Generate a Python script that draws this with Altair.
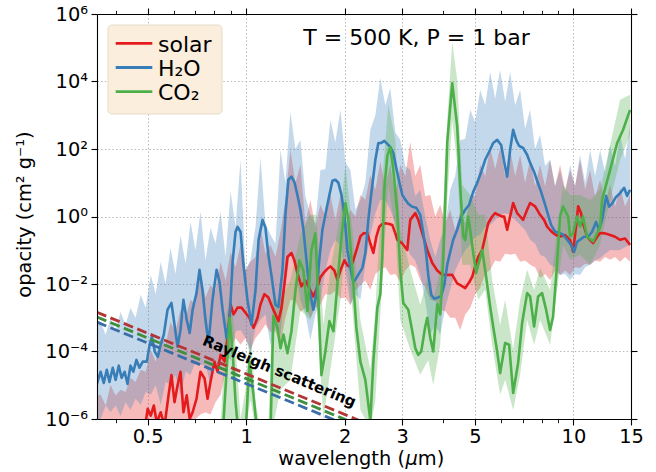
import altair as alt
import pandas as pd

FONT = "DejaVu Sans"

# ---------------- smoothed opacity curves (wavelength in um, log10 opacity in cm^2/g) -------------
h2o_wl = [
    0.349, 0.359, 0.367, 0.375, 0.382, 0.391, 0.399, 0.408, 0.416, 0.425,
    0.434, 0.443, 0.452, 0.462, 0.472, 0.483, 0.497, 0.507, 0.515, 0.526,
    0.537, 0.548, 0.560, 0.575, 0.591, 0.604, 0.617, 0.630, 0.643, 0.658,
    0.672, 0.686, 0.705, 0.720, 0.735, 0.751, 0.767, 0.789, 0.812, 0.829,
    0.847, 0.871, 0.890, 0.909, 0.928, 0.941, 0.961, 0.981, 1.009, 1.038,
    1.068, 1.091, 1.122, 1.145, 1.169, 1.194, 1.229, 1.255, 1.291, 1.318,
    1.346, 1.375, 1.404, 1.434, 1.465, 1.496, 1.528, 1.560, 1.604, 1.638,
    1.673, 1.710, 1.758, 1.796, 1.835, 1.873, 1.913, 1.955, 1.996, 2.039,
    2.082, 2.126, 2.172, 2.218, 2.266, 2.313, 2.362, 2.413, 2.482, 2.535,
    2.588, 2.643, 2.700, 2.757, 2.816, 2.876, 2.937, 3.000, 3.064, 3.129,
    3.218, 3.310, 3.404, 3.477, 3.551, 3.601, 3.678, 3.756, 3.837, 3.946,
    4.030, 4.116, 4.203, 4.293, 4.415, 4.542, 4.671, 4.804, 4.941, 5.082,
    5.227, 5.376, 5.529, 5.687, 5.849, 6.015, 6.143, 6.275, 6.408, 6.545,
    6.684, 6.826, 7.021, 7.221, 7.375, 7.585, 7.747, 7.968, 8.195, 8.370,
    8.548, 8.792, 9.043, 9.301, 9.568, 9.841, 10.05, 10.26, 10.48, 10.78,
    11.09, 11.41, 11.73, 11.98, 12.24, 12.59, 12.86, 13.13, 13.50, 13.89,
    14.29, 14.59, 14.90,
]
h2o_log = [
    -4.99, -4.60, -4.93, -4.54, -4.90, -4.48, -4.84, -4.42, -4.78, -4.60,
    -4.96, -4.42, -4.60, -4.25, -4.48, -4.30, -4.30, -3.80, -3.56, -4.01,
    -4.16, -3.80, -3.50, -2.76, -2.56, -3.21, -3.86, -3.36, -2.47, -3.06,
    -3.45, -2.76, -2.27, -1.58, -2.17, -3.06, -3.75, -2.47, -1.58, -1.94,
    -2.76, -3.60, -3.06, -1.34, -0.45, -0.31, -0.45, -1.43, -2.47, -3.21,
    -2.17, -0.69, -0.10, -0.33, -1.14, -1.73, -2.62, -2.68, -1.58, 0.05,
    1.09, 1.18, 1.02, 0.64, 0.20, -0.39, -1.28, -2.17, -2.76, -2.32,
    -1.28, -0.39, 0.20, 0.64, 1.06, 1.09, 1.00, 0.64, 0.05, -0.99,
    -1.52, -1.94, -1.82, -1.67, -1.52, -1.08, -0.10, 0.69, 1.68, 2.18,
    2.18, 2.24, 2.15, 2.06, 1.88, 1.44, 1.02, 0.64, 0.50, 0.38,
    0.29, 0.26, 0.05, -0.48, -1.13, -1.73, -2.32, -2.44, -2.41, -2.35,
    -2.03, -1.43, -1.05, -0.69, -0.39, 0.00, 0.20, 0.35, 0.73, 1.00,
    1.32, 1.68, 1.92, 2.18, 2.27, 2.12, 1.62, 1.18, 1.98, 2.57,
    2.27, 2.09, 2.03, 1.83, 1.59, 1.32, 1.06, 0.73, 0.35, 0.05,
    -0.25, -0.45, -0.48, -0.54, -0.69, -0.84, -1.05, -0.75, -0.69, -0.60,
    -0.60, -0.45, -0.16, -0.39, -0.10, 0.61, 0.29, 0.38, 0.58, 0.69,
    0.85, 0.61, 0.79,
]

solar_wl = [
    0.486, 0.500, 0.511, 0.522, 0.533, 0.548, 0.563, 0.579, 0.591, 0.604,
    0.617, 0.630, 0.643, 0.658, 0.672, 0.686, 0.705, 0.725, 0.746, 0.762,
    0.778, 0.800, 0.817, 0.835, 0.859, 0.877, 0.896, 0.915, 0.941, 0.968,
    0.995, 1.023, 1.053, 1.083, 1.106, 1.137, 1.169, 1.203, 1.229, 1.255,
    1.282, 1.309, 1.337, 1.375, 1.404, 1.434, 1.475, 1.517, 1.549, 1.604,
    1.650, 1.686, 1.722, 1.771, 1.809, 1.860, 1.900, 1.941, 1.996, 2.039,
    2.082, 2.126, 2.188, 2.234, 2.282, 2.346, 2.396, 2.447, 2.499, 2.552,
    2.606, 2.662, 2.738, 2.796, 2.856, 2.897, 3.000, 3.107, 3.173, 3.287,
    3.357, 3.452, 3.576, 3.704, 3.837, 3.974, 4.116, 4.263, 4.415, 4.542,
    4.671, 4.804, 4.907, 5.011, 5.118, 5.264, 5.376, 5.491, 5.647, 5.767,
    5.890, 6.058, 6.143, 6.275, 6.408, 6.545, 6.731, 6.875, 7.021, 7.221,
    7.375, 7.639, 7.912, 8.138, 8.311, 8.488, 8.669, 8.854, 9.107, 9.434,
    9.772, 9.980, 10.19, 10.34, 10.55, 10.70, 11.01, 11.25, 11.49, 11.82,
    12.07, 12.50, 12.95, 13.41, 13.89, 14.39, 14.90,
]
solar_log = [
    -6.5, -5.7, -5.9, -5.6, -6.1, -5.8, -6.2, -5.3, -4.7, -5.5,
    -5.0, -4.6, -5.8, -5.3, -6.0, -5.8, -5.4, -4.6, -4.8, -5.4,
    -4.9, -4.3, -4.6, -4.1, -4.3, -3.6, -2.6, -2.9, -2.7, -2.7,
    -2.85, -3.0, -3.3, -3.0, -2.6, -2.3, -2.4, -2.7, -2.9, -3.1,
    -2.7, -2.0, -1.2, -1.08, -1.3, -1.68, -2.07, -1.9, -2.07, -2.37,
    -2.1, -1.8, -1.68, -1.55, -1.48, -1.6, -1.88, -1.6, -1.3, -1.45,
    -1.5, -1.3, -0.9, -0.59, -0.5, -0.49, -0.8, -1.08, -0.6, -0.3,
    -0.22, -0.2, -0.22, -0.25, -0.5, -0.69, -0.8, -0.99, -0.1, 0.1,
    -0.1, -0.49, -0.99, -1.38, -1.6, -1.73, -1.73, -1.73, -1.98, -2.05,
    -2.12, -1.95, -1.78, -1.48, -1.2, -0.99, -0.6, -0.2, 0.0, 0.1,
    0.05, 0.0, 0.0, -0.39, 0.0, 0.4, 0.1, 0.0, -0.1, 0.2,
    0.4, 0.3, 0.05, -0.1, -0.3, -0.4, -0.49, -0.55, -0.59, -0.55,
    -0.7, -1.04, -0.3, 0.3, 0.1, -0.2, -0.59, -0.7, -0.79, -0.6,
    -0.49, -0.5, -0.55, -0.6, -0.69, -0.65, -0.84,
]

co2_wl = [
    0.847, 0.871, 0.890, 0.909, 0.928, 0.948, 0.995, 1.023, 1.053, 1.083,
    1.186, 1.211, 1.246, 1.273, 1.300, 1.337, 1.375, 1.414, 1.454, 1.496,
    1.539, 1.582, 1.627, 1.662, 1.698, 1.746, 1.796, 1.848, 1.900, 1.955,
    2.010, 2.053, 2.112, 2.172, 2.234, 2.313, 2.396, 2.447, 2.517, 2.570,
    2.606, 2.643, 2.700, 2.757, 2.816, 2.897, 2.958, 3.021, 3.129, 3.218,
    3.287, 3.357, 3.428, 3.526, 3.576, 3.652, 3.730, 3.837, 3.918, 4.001,
    4.116, 4.263, 4.415, 4.510, 4.606, 4.671, 4.771, 4.838, 4.941, 5.046,
    5.264, 5.414, 5.568, 5.687, 5.849, 5.973, 6.187, 6.363, 6.545, 6.778,
    6.973, 7.221, 7.375, 7.585, 7.802, 8.024, 8.253, 8.488, 8.669, 8.917,
    9.107, 9.301, 9.635, 9.772, 9.980, 10.26, 10.48, 10.70, 11.01, 11.49,
    12.07, 12.24, 12.95, 13.60, 14.19, 14.90,
]
co2_log = [
    -6.5, -4.6, -3.0, -4.0, -5.5, -6.5, -6.5, -4.3, -5.3, -6.5,
    -6.5, -2.95, -3.3, -3.9, -3.5, -4.05, -3.4, -2.2, -1.3, -1.6,
    -2.8, -1.0, -0.5, -2.5, -4.7, -4.0, -3.1, -3.4, -2.0, -0.6,
    0.4, -0.1, -1.6, -3.3, -4.3, -4.84, -6.05, -4.3, -2.7, -2.3,
    -1.2, 0.8, 1.8, 2.06, 1.4, 0.1, -1.6, -2.56, -2.76, -3.4,
    -3.9, -4.1, -4.0, -3.26, -3.0, -3.6, -4.0, -2.6, -2.9, -1.3,
    2.2, 3.95, 2.67, 0.89, -0.59, -0.7, 0.0, -0.4, -1.08, -1.67,
    -0.99, -1.8, -2.67, -3.26, -4.0, -4.64, -3.75, -3.8, -5.23, -4.34,
    -3.15, -2.27, -2.37, -3.26, -2.37, -2.27, -2.76, -3.36, -2.97, -1.38,
    0.0, 0.3, 0.0, -0.59, -0.5, 0.0, -0.3, 0.0, -0.59, -0.74,
    -0.3, 0.5, 1.38, 2.17, 2.57, 3.16,
]

# ---------------- envelopes of the high-resolution spectra (log10 opacity) ----------------
band_wl = [
    0.350,
    0.359, 0.385, 0.413, 0.443, 0.476, 0.511, 0.548, 0.587, 0.630, 0.676,
    0.725, 0.778, 0.835, 0.896, 0.961, 1.031, 1.106, 1.186, 1.273, 1.365,
    1.465, 1.571, 1.686, 1.809, 1.941, 2.082, 2.234, 2.396, 2.570, 2.757,
    2.958, 3.173, 3.404, 3.652, 3.918, 4.203, 4.510, 4.838, 5.190, 5.568,
    5.973, 6.408, 6.875, 7.375, 7.912, 8.488, 9.107, 9.772, 10.48, 11.25,
    12.07, 12.95, 13.89, 14.90,
]
h2o_hi = [
    -3.10,
    -3.12, -3.0, -2.83, -2.71, -2.32, -1.73, -1.34, -0.93, -0.57, -0.16,
    0.14, -0.33, 0.14, 0.73, 1.68, -1.28, 1.74, -0.54, 1.97, 3.10,
    2.27, 0.05, 1.38, 2.86, 3.16, 1.38, 0.49, 2.57, 4.11, 3.81,
    2.27, 1.38, 0.79, -0.69, -0.69, 0.79, 2.27, 3.16, 3.75, 4.28,
    4.34, 4.28, 3.75, 3.16, 2.42, 1.68, 1.38, 1.53, 1.82, 1.97,
    1.97, 2.12, 2.42, 2.72,
]
h2o_lo = [
    -6.0,
    -6.0, -5.79, -5.91, -5.73, -5.58, -5.28, -5.58, -4.99, -5.28, -4.69,
    -4.39, -4.99, -4.54, -4.25, -3.36, -4.10, -3.06, -3.80, -3.50, -0.99,
    -2.47, -3.66, -2.47, -0.99, -0.84, -2.62, -2.47, -0.54, 0.49, 0.2,
    -0.84, -1.13, -1.73, -3.50, -3.50, -2.17, -1.28, -0.84, -0.54, -0.25,
    0.05, 0.05, -0.25, -0.69, -1.13, -1.43, -1.73, -1.88, -1.73, -1.43,
    -1.23, -0.99, -0.99, -0.84,
]
solar_hi = [
    -5.30,
    -5.28, -4.99, -5.13, -4.78, -4.54, -3.95, -3.60, -3.13, -2.77, -2.47,
    -1.64, -2.03, -1.34, -1.05, -0.84, -1.34, -0.33, -0.84, -0.45, 1.97,
    1.53, 0.49, 0.35, 0.64, 0.64, 0.2, 0.64, 1.23, 1.62, 1.53,
    1.53, 2.21, 1.53, 0.64, 0.35, 0.2, 0.14, 0.64, 1.53, 2.04,
    2.04, 1.97, 1.82, 1.68, 1.53, 1.68, 1.53, 1.38, 1.68, 1.38,
    1.09, 0.94, 0.85, 0.64,
]
solar_lo = [
    -6.32,
    -6.32, -6.32, -6.32, -6.32, -6.32, -6.32, -6.32, -6.32, -6.32, -6.17,
    -5.87, -5.87, -5.28, -3.95, -3.80, -3.95, -3.42, -3.42, -3.80, -2.47,
    -2.83, -3.0, -2.62, -2.32, -2.42, -2.62, -2.03, -2.17, -1.58, -1.73,
    -1.94, -1.43, -1.88, -2.47, -2.77, -3.0, -3.36, -2.71, -2.12, -1.58,
    -1.34, -1.13, -1.34, -1.43, -1.82, -1.88, -1.73, -1.73, -1.52, -1.43,
    -1.34, -1.28, -1.34, -1.34,
]
# in-between samples of the same envelopes (the dense part between the spikes)
mid_wl = [
    0.372, 0.399, 0.428, 0.459, 0.493, 0.529, 0.567, 0.608, 0.653, 0.700,
    0.751, 0.806, 0.865, 0.928, 0.995, 1.068, 1.145, 1.229, 1.318, 1.414,
    1.517, 1.627, 1.746, 1.873, 2.010, 2.157, 2.313, 2.482, 2.662, 2.856,
    3.064, 3.287, 3.526, 3.783, 4.058, 4.353, 4.671, 5.011, 5.376, 5.767,
    6.187, 6.637, 7.120, 7.639, 8.195, 8.792, 9.434, 10.12, 10.86, 11.65,
    12.50, 13.41, 14.39,
]
h2o_hi_mid = [
    -3.5, -3.4, -3.2, -3.0, -2.7, -2.3, -2.0, -1.7, -1.4, -1.0,
    -1.3, -0.8, -1.2, -0.3, -1.6, -0.3, -0.2, -0.8, 1.0, 2.0,
    0.6, -0.2, 1.4, 2.2, 1.6, 0.2, 1.0, 3.0, 3.3, 2.5,
    1.5, 0.6, 0.0, -1.2, -0.3, 1.2, 2.3, 2.8, 3.3, 3.5,
    3.4, 3.3, 2.6, 2.0, 1.5, 0.9, 0.7, 0.9, 1.0, 1.2,
    1.3, 1.5, 1.7,
]
h2o_lo_mid = [
    -5.6, -5.6, -5.5, -5.4, -5.2, -5.0, -4.9, -4.7, -4.6, -4.3,
    -4.4, -4.4, -4.1, -3.4, -3.6, -3.3, -2.9, -3.3, -2.0, -1.6,
    -2.9, -2.9, -1.6, -0.7, -1.6, -2.3, -1.4, 0.1, 0.5, -0.2,
    -0.8, -1.3, -2.5, -3.2, -2.7, -1.6, -1.0, -0.6, -0.3, -0.1,
    0.1, -0.1, -0.4, -0.8, -1.2, -1.5, -1.7, -1.7, -1.5, -1.3,
    -1.1, -1.0, -0.9,
]
solar_hi_mid = [
    -5.6, -5.3, -5.2, -4.9, -4.6, -4.3, -3.8, -3.4, -3.0, -2.6,
    -2.4, -2.2, -1.9, -1.5, -1.6, -1.2, -1.1, -1.2, 0.5, 1.0,
    -0.2, -0.3, 0.0, -0.1, -0.3, 0.0, 0.5, 0.8, 0.9, 0.6,
    1.2, 1.2, 0.6, 0.0, -0.2, -0.4, -0.2, 0.6, 1.2, 1.4,
    1.2, 1.2, 1.0, 0.9, 0.9, 0.9, 0.8, 0.9, 0.8, 0.6,
    0.4, 0.3, 0.3,
]
solar_lo_mid = [
    -6.32, -6.32, -6.32, -6.32, -6.32, -6.32, -6.32, -6.32, -6.32, -6.0,
    -5.8, -5.5, -4.6, -3.6, -3.6, -3.6, -3.2, -3.4, -3.0, -2.5,
    -2.7, -2.7, -2.3, -2.2, -2.4, -2.2, -1.9, -1.7, -1.5, -1.7,
    -1.6, -1.5, -2.1, -2.5, -2.8, -3.0, -2.9, -2.3, -1.7, -1.3,
    -1.1, -1.1, -1.3, -1.5, -1.7, -1.6, -1.6, -1.5, -1.4, -1.3,
    -1.2, -1.2, -1.2,
]
co2_band_wl = [
    0.835, 0.865, 0.896, 0.928, 0.961, 0.995, 1.031, 1.068, 1.106, 1.169,
    1.203, 1.273, 1.365, 1.465, 1.571, 1.638, 1.722, 1.809, 1.941, 2.010, 2.112,
    2.234, 2.396, 2.482, 2.606, 2.719, 2.856, 2.958, 3.173, 3.404, 3.601,
    3.730, 3.918, 4.116, 4.263, 4.415, 4.574, 4.838, 5.118, 5.376, 5.647,
    5.973, 6.187, 6.545, 6.875, 7.221, 7.585, 7.912, 8.488, 8.917, 9.301,
    9.772, 10.48, 11.25, 12.07, 12.95, 13.89, 14.90,
]
co2_hi = [
    -6.3, -3.07, -2.18, -3.80, -6.0, -5.13, -3.36, -5.5, -6.3, -6.3,
    -2.47, -2.47, -1.88, -0.54, 0.05, 0.05, -3.2, -1.58, 0.05, 1.53, -0.39,
    -3.07, -4.54, -2.77, 1.09, 3.31, 2.27, -0.39, -1.58, -2.62, -1.73,
    -2.47, -1.58, 2.86, 5.17, 4.05, 0.94, 0.64, 0.05, 0.05, -1.88,
    -3.21, -2.47, -3.95, -2.47, -1.58, -2.18, -1.52, -2.18, -0.39, 0.94,
    0.64, 0.64, 0.49, 0.79, 2.12, 3.46, 3.61,
]
co2_lo = [
    -6.3, -6.3, -6.03, -6.3, -6.3, -6.3, -5.43, -6.3, -6.3, -6.3,
    -6.3, -5.13, -4.84, -2.77, -3.07, -2.5, -6.03, -4.54, -2.47, -0.84, -2.77,
    -5.73, -6.3, -5.43, -1.88, 0.94, -0.39, -3.07, -3.95, -4.69, -4.25,
    -4.99, -3.80, 0.49, 2.86, 1.53, -1.43, -1.43, -2.47, -2.17, -3.80,
    -5.28, -4.84, -5.73, -4.69, -3.07, -3.80, -3.07, -3.80, -2.17, -0.84,
    -1.28, -1.13, -1.43, -0.84, 0.49, 1.68, 2.42,
]

# ---------------- Rayleigh scattering lines (end points, cm^2/g) ----------------
ray_wl = [0.35, 2.3]
ray_solar = [1.45e-3, 7.8e-7]
ray_co2 = [1.05e-3, 5.6e-7]
ray_h2o = [7.4e-4, 4.0e-7]

# ---------------- labels / ticks ----------------
series_names = ["solar", "H\u2082O", "CO\u2082"]
series_colors = ["#e41a1c", "#377eb8", "#4daf4a"]
ray_colors = ["#b33636", "#3b6ea8", "#3e8e3e"]
x_major = [0.5, 1, 2, 3, 5, 10, 15]
x_grid = [0.5, 1, 2, 3, 5, 10]
x_minor = [0.4, 0.6, 0.7, 0.8, 0.9, 4, 6, 7, 8, 9]
y_major = [1e-6, 1e-4, 1e-2, 1, 1e2, 1e4, 1e6]
y_grid = [1e-4, 1e-2, 1, 1e2, 1e4]
x_title_parts = ["wavelength (", "\u03bc", "m)"]


def curve_df(wl, logs):
    assert len(wl) == len(logs)
    return pd.DataFrame({"wl": wl, "op": [10.0 ** v for v in logs]})


def band_df(wl, lo, hi):
    assert len(wl) == len(lo) == len(hi)
    return pd.DataFrame({"wl": wl, "lo": [10.0 ** v for v in lo],
                         "hi": [10.0 ** v for v in hi]})


def merged_band(lo, hi, lo_mid, hi_mid):
    df = pd.concat([band_df(band_wl, lo, hi), band_df(mid_wl, lo_mid, hi_mid)])
    return df.sort_values("wl").reset_index(drop=True)


xs = alt.Scale(type="log", domain=[0.35, 15], nice=False)
ys = alt.Scale(type="log", domain=[1e-6, 1e6], nice=False)

common = dict(labelFont=FONT, titleFont=FONT, tickColor="black", domainColor="black",
              labelColor="black", titleColor="black")

ax_grid_x = alt.Axis(orient="bottom", values=x_grid, grid=True, gridDash=[1.5, 2.2],
                     gridColor="#b0b0b0", gridWidth=0.9, labels=False, ticks=False,
                     domain=False, title=None)
ax_grid_y = alt.Axis(orient="left", values=y_grid, grid=True, gridDash=[1.5, 2.2],
                     gridColor="#b0b0b0", gridWidth=0.9, labels=False, ticks=False,
                     domain=False, title=None)
ax_main_x = alt.Axis(orient="bottom", values=x_major, format="~g", grid=False,
                     labelFontSize=19.4, labelPadding=2, labelFlush=False, labelOverlap=False,
                     tickSize=6, tickWidth=1.1, domainWidth=1.1, title=None,
                     zindex=1, **common)
y_label_expr = ("datum.value > 1e5 ? '10\u2076' : datum.value > 1e3 ? '10\u2074' : "
                "datum.value > 10 ? '10\u00b2' : datum.value > 0.1 ? '10\u2070' : "
                "datum.value > 1e-3 ? '10\u207b\u00b2' : datum.value > 1e-5 ? '10\u207b\u2074' : "
                "'10\u207b\u2076'")
ax_main_y = alt.Axis(orient="left", values=y_major, labelExpr=y_label_expr, grid=False,
                     labelFontSize=19.4, labelPadding=3.5, labelFlush=False, labelOverlap=False,
                     labelBaseline="middle",
                     tickSize=6, tickWidth=1.1, domainWidth=1.1,
                     title="opacity (cm\u00b2 g\u207b\u00b9)", titleFontSize=19.4,
                     titleFontWeight="normal", titleAngle=270, titleX=-67, titleY=200,
                     titleBaseline="alphabetic", titleAlign="center", zindex=1, **common)
ax_minor_x = alt.Axis(orient="bottom", values=x_minor, labels=False, grid=False, domain=False,
                      tickSize=3.7, tickWidth=0.9, title=None, zindex=1, **common)
ax_top_x = alt.Axis(orient="top", values=x_major, labels=False, grid=False, tickSize=6,
                    tickWidth=1.1, domainWidth=1.1, title=None, zindex=1, **common)
ax_top_minor = alt.Axis(orient="top", values=x_minor, labels=False, grid=False, domain=False,
                        tickSize=3.7, tickWidth=0.9, title=None, zindex=1, **common)
ax_right_y = alt.Axis(orient="right", values=y_major, labels=False, grid=False, tickSize=6,
                      tickWidth=1.1, domainWidth=1.1, title=None, zindex=1, **common)


def band_layer(df, color, xaxis, yaxis):
    return alt.Chart(df).mark_area(color=color, opacity=0.3, clip=True, orient="vertical").encode(
        x=alt.X("wl:Q", scale=xs, axis=xaxis),
        y=alt.Y("lo:Q", scale=ys, axis=yaxis),
        y2="hi:Q",
    )


def line_layer(df, color, xaxis=None, yaxis=None, dash=None, width=2.6):
    kw = dict(color=color, strokeWidth=width, clip=True, strokeJoin="round")
    if dash is not None:
        kw["strokeDash"] = dash
    return alt.Chart(df).mark_line(**kw).encode(
        x=alt.X("wl:Q", scale=xs, axis=xaxis),
        y=alt.Y("op:Q", scale=ys, axis=yaxis),
    )


layers = [
    band_layer(merged_band(solar_lo, solar_hi, solar_lo_mid, solar_hi_mid),
               series_colors[0], ax_main_x, ax_main_y),
    band_layer(merged_band(h2o_lo, h2o_hi, h2o_lo_mid, h2o_hi_mid),
               series_colors[1], ax_grid_x, ax_grid_y),
    band_layer(band_df(co2_band_wl, co2_lo, co2_hi), series_colors[2], ax_minor_x, ax_right_y),
    line_layer(curve_df(solar_wl, solar_log), series_colors[0], ax_top_x, None),
    line_layer(curve_df(h2o_wl, h2o_log), series_colors[1], ax_top_minor, None),
    line_layer(curve_df(co2_wl, co2_log), series_colors[2]),
]
for vals, col in zip([ray_solar, ray_co2, ray_h2o], [ray_colors[0], ray_colors[2], ray_colors[1]]):
    layers.append(line_layer(pd.DataFrame({"wl": ray_wl, "op": vals}), col,
                             dash=[10, 4.5], width=2.8))

# Rayleigh annotation (placed in data coordinates)
ray_text = pd.DataFrame({"wl": [1.264], "op": [2.6e-5], "t": ["Rayleigh scattering"]})
layers.append(
    alt.Chart(ray_text).mark_text(font=FONT, fontSize=15, fontWeight="bold", angle=22.5,
                                  align="center", baseline="middle", color="black").encode(
        x=alt.X("wl:Q", scale=xs, axis=None), y=alt.Y("op:Q", scale=ys, axis=None), text="t:N")
)

one = pd.DataFrame({"k": [0]})
layers.append(
    alt.Chart(one).mark_text(font=FONT, fontSize=22, align="center", baseline="alphabetic",
                             color="black").encode(
        x=alt.value(319.5), y=alt.value(31), text=alt.value("T = 500 K, P = 1 bar"))
)

# x-axis title with an italic mu
MU_X = 308
layers.append(
    alt.Chart(one).mark_text(font=FONT, fontSize=19.4, align="right", baseline="alphabetic",
                             color="black").encode(
        x=alt.value(MU_X), y=alt.value(451), text=alt.value(x_title_parts[0]))
)
layers.append(
    alt.Chart(one).mark_text(font=FONT, fontSize=19.4, fontStyle="italic", align="left",
                             baseline="alphabetic", color="black").encode(
        x=alt.value(MU_X + 0.5), y=alt.value(451), text=alt.value(x_title_parts[1]))
)
layers.append(
    alt.Chart(one).mark_text(font=FONT, fontSize=19.4, align="left", baseline="alphabetic",
                             color="black").encode(
        x=alt.value(MU_X + 12.8), y=alt.value(451), text=alt.value(x_title_parts[2]))
)

# legend box
layers.append(
    alt.Chart(one).mark_rect(fill="#fbeedc", stroke="#e6dbc8", strokeWidth=1,
                             cornerRadius=4).encode(
        x=alt.value(11), x2=alt.value(125), y=alt.value(11), y2=alt.value(100))
)
for i, (name, col) in enumerate(zip(series_names, series_colors)):
    yy = 29.3 + 24.2 * i
    layers.append(
        alt.Chart(one).mark_rule(color=col, strokeWidth=2.8).encode(
            x=alt.value(18.7), x2=alt.value(55.3), y=alt.value(yy))
    )
    layers.append(
        alt.Chart(one).mark_text(font=FONT, fontSize=22, align="left", baseline="alphabetic",
                                 color="black").encode(
            x=alt.value(61), y=alt.value(yy + 8.4), text=alt.value(name))
    )

chart = (
    alt.layer(*layers)
    .resolve_axis(x="independent", y="independent")
    .properties(
        width=534, height=405,
        autosize=alt.AutoSizeParams(type="none"),
        padding={"left": 97, "top": 14, "right": 25, "bottom": 53},
        background="white",
    )
    .configure_view(stroke=None)
)

chart.save("out.html", embed_options={"renderer": "svg", "actions": False})
